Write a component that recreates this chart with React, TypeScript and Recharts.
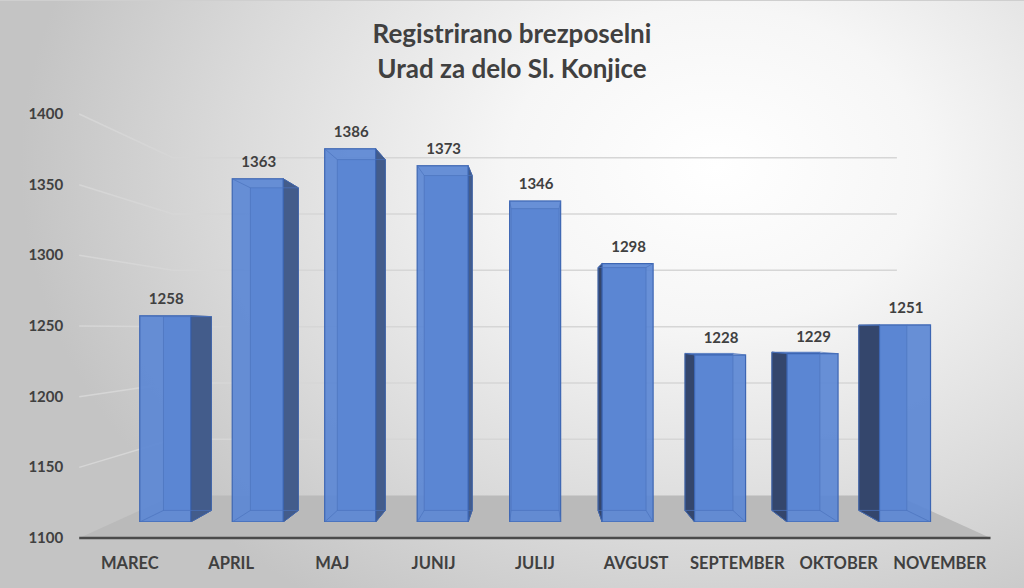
import React from 'react';
import { BarChart, Bar, XAxis, YAxis, CartesianGrid } from 'recharts';

const months = ['MAREC', 'APRIL', 'MAJ', 'JUNIJ', 'JULIJ', 'AVGUST', 'SEPTEMBER', 'OKTOBER', 'NOVEMBER'];
const unemployed = [1258, 1363, 1386, 1373, 1346, 1298, 1228, 1229, 1251];
const yTicks = [1100, 1150, 1200, 1250, 1300, 1350, 1400];
const titleLines = ['Registrirano brezposelni', 'Urad za delo Sl. Konjice'];

const data = months.map((m, i) => ({ month: m, value: unemployed[i] }));

const W = 1024;
const H = 588;
const X_AXIS_H = 30;
const Y_AXIS_W = 40;
const PLOT_LEFT = 118.75;
const PLOT_RIGHT = 951;
const PLOT_TOP = 129.5;
const PLOT_BOTTOM = 521;
const MARGIN = {
  top: PLOT_TOP,
  right: W - PLOT_RIGHT,
  bottom: H - PLOT_BOTTOM - X_AXIS_H,
  left: PLOT_LEFT - Y_AXIS_W,
};

// perspective helpers
const VX = 535;
const VY = 328;
const FRONT = { sx: 1.095, sy: 1.083 };
const BACK = { sx: 0.87, sy: 0.863 };
const DEPTH_K = 0.06;

const px = (x: number, s: { sx: number }) => VX + (x - VX) * s.sx;
const py = (y: number, s: { sy: number }) => VY + (y - VY) * s.sy;

const TEXT = '#404040';
const FONT = 'Lato, "Open Sans", sans-serif';

const GridLine = (props: any) => {
  const { y1 } = props;
  if (y1 > PLOT_BOTTOM - 1) {
    const fl = px(PLOT_LEFT, FRONT);
    const fr = px(PLOT_RIGHT, FRONT);
    const bl = px(PLOT_LEFT, BACK);
    const br = px(PLOT_RIGHT, BACK);
    const fy = py(y1, FRONT);
    const by = py(y1, BACK);
    return (
      <g key={props.key}>
        <polygon points={`${fl},${fy} ${fr},${fy} ${br},${by} ${bl},${by}`} fill="#bababa" />
        <line x1={fl} y1={fy} x2={fr} y2={fy} stroke="#4a4a4a" strokeWidth={2.5} />
      </g>
    );
  }
  const pts = [
    [px(PLOT_LEFT, FRONT), py(y1, FRONT)],
    [px(PLOT_LEFT, BACK), py(y1, BACK)],
    [px(PLOT_RIGHT, BACK), py(y1, BACK)],
  ];
  return (
    <polyline
      key={props.key}
      points={pts.map((p) => p.join(',')).join(' ')}
      fill="none"
      stroke="#d6d6d6"
      strokeWidth={1.5}
    />
  );
};

const back = (x: number, y: number) => [VX + (x - VX) * (1 - DEPTH_K), VY + (y - VY) * (1 - DEPTH_K)];

const Bar3D = (props: any) => {
  const { x, y, width, height } = props;
  const x2 = x + width;
  const y2 = y + height;
  const [bx1, by1] = back(x, y);
  const [bx2, by2] = back(x2, y2);
  let side: string | null = null;
  let sideFill = '#435c8b';
  if (x2 < VX - 2) {
    side = `${x2},${y} ${bx2},${by1} ${bx2},${by2} ${x2},${y2}`;
  } else if (x > VX + 2) {
    side = `${x},${y} ${bx1},${by1} ${bx1},${by2} ${x},${y2}`;
    sideFill = '#34466c';
  }
  const inner = '#4b74bd';
  return (
    <g>
      <rect x={bx1} y={by1} width={bx2 - bx1} height={by2 - by1} fill="#4f78c2" />
      {side && <polygon points={side} fill={sideFill} stroke="#2f4a80" strokeWidth={1} />}
      <rect x={x} y={y} width={width} height={height} fill="#5c88d4" fillOpacity={0.93} stroke="#3d66b3" strokeWidth={1.2} />
      <rect x={bx1} y={by1} width={bx2 - bx1} height={by2 - by1} fill="none" stroke={inner} strokeWidth={1} strokeOpacity={0.7} />
      <line x1={x} y1={y} x2={bx1} y2={by1} stroke={inner} strokeOpacity={0.7} />
      <line x1={x2} y1={y} x2={bx2} y2={by1} stroke={inner} strokeOpacity={0.7} />
      <line x1={x} y1={y2} x2={bx1} y2={by2} stroke={inner} strokeOpacity={0.7} />
      <line x1={x2} y1={y2} x2={bx2} y2={by2} stroke={inner} strokeOpacity={0.7} />
    </g>
  );
};

const renderValueLabel = (p: any) => {
  const { x, y, width, value } = p;
  return (
    <text x={x + width / 2 + 1} y={y - 12} textAnchor="middle" fill={TEXT} fontFamily={FONT} fontWeight={700} fontSize={15}>
      {value}
    </text>
  );
};

const XTick = (p: any) => {
  const { x, payload } = p;
  return (
    <text x={px(x, FRONT)} y={py(PLOT_BOTTOM, FRONT) + 31} textAnchor="middle" fill={TEXT} fontFamily={FONT} fontWeight={700} fontSize={16.5}>
      {payload.value}
    </text>
  );
};

const YTick = (p: any) => {
  const { y, payload } = p;
  return (
    <text x={px(PLOT_LEFT, FRONT) - 16} y={py(y, FRONT) + 5} textAnchor="end" fill={TEXT} fontFamily={FONT} fontWeight={700} fontSize={15}>
      {payload.value}
    </text>
  );
};

export default function App() {
  return (
    <div
      style={{
        position: 'absolute',
        left: 0,
        top: 0,
        width: W,
        height: H,
        overflow: 'hidden',
        boxSizing: 'border-box',
        borderTop: '1px solid #cfcfcf',
        background:
          'radial-gradient(ellipse 68% 90% at 70% 28%, #ffffff 0%, #f6f6f6 30%, #dadada 70%, #c4c4c4 100%)',
        fontFamily: FONT,
      }}
    >
      <div
        style={{
          position: 'absolute',
          left: 0,
          top: 15,
          width: W,
          textAlign: 'center',
          color: TEXT,
          fontWeight: 700,
          fontSize: 26,
          lineHeight: '35px',
        }}
      >
        {titleLines.map((t) => (
          <div key={t}>{t}</div>
        ))}
      </div>
      <div style={{ position: 'absolute', left: 0, top: 0 }}>
        <BarChart width={W} height={H} data={data} margin={MARGIN}>
          <CartesianGrid vertical={false} horizontal={GridLine as any} />
          <XAxis
            dataKey="month"
            height={X_AXIS_H}
            axisLine={false}
            tickLine={false}
            interval={0}
            tick={XTick}
          />
          <YAxis
            width={Y_AXIS_W}
            domain={[1100, 1400]}
            ticks={yTicks}
            interval={0}
            allowDataOverflow
            axisLine={false}
            tickLine={false}
            tick={YTick}
          />
          <Bar dataKey="value" barSize={51} shape={Bar3D} label={renderValueLabel} isAnimationActive={false} />
        </BarChart>
      </div>
    </div>
  );
}
